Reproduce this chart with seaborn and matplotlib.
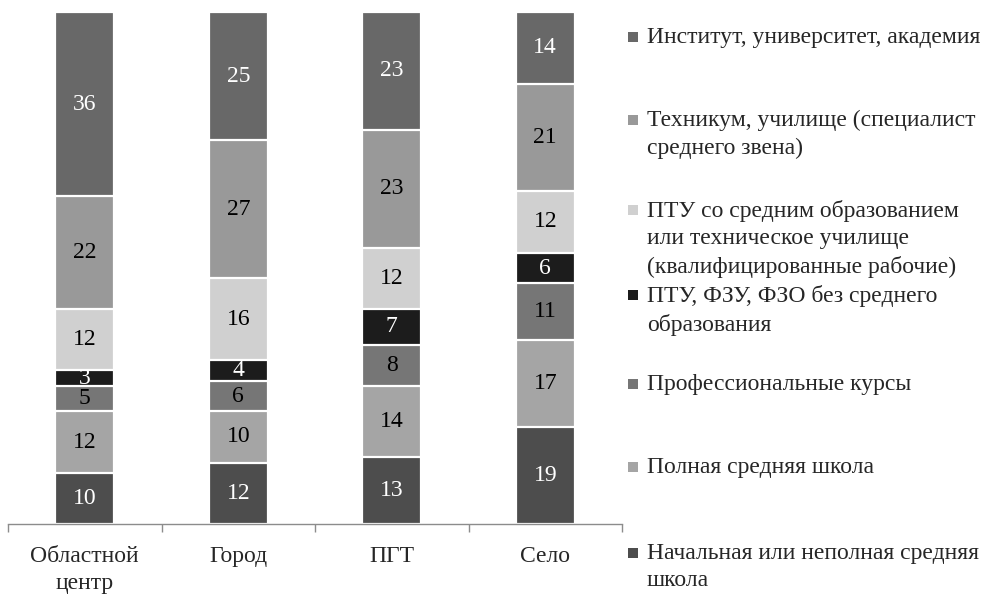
import pandas as pd
import numpy as np
import matplotlib
matplotlib.use("Agg")
import matplotlib.pyplot as plt
from matplotlib.patches import Rectangle
import seaborn as sns

# Data (top of stack first)
places = ["Областной\nцентр", "Город", "ПГТ", "Село"]
levels = [
    "Институт, университет, академия",
    "Техникум, училище (специалист\nсреднего звена)",
    "ПТУ со средним образованием\nили техническое училище\n(квалифицированные рабочие)",
    "ПТУ, ФЗУ, ФЗО без среднего\nобразования",
    "Профессиональные курсы",
    "Полная средняя школа",
    "Начальная или неполная средняя\nшкола",
]
institut = [36, 25, 23, 14]
tehnikum = [22, 27, 23, 21]
ptu_sred = [12, 16, 12, 12]
ptu_bez = [3, 4, 7, 6]
kursy = [5, 6, 8, 11]
polnaya = [12, 10, 14, 17]
nachalnaya = [10, 12, 13, 19]

colors = ["#686868", "#999999", "#d0d0d0", "#1c1c1c", "#767676", "#a5a5a5", "#4d4d4d"]
text_colors = ["white", "black", "black", "white", "black", "black", "white"]

sns.set_style("white")
plt.rcParams["font.family"] = ["Liberation Serif", "DejaVu Serif"]
FS = 17

df = pd.DataFrame({
    "place": places,
    levels[0]: institut, levels[1]: tehnikum, levels[2]: ptu_sred,
    levels[3]: ptu_bez, levels[4]: kursy, levels[5]: polnaya, levels[6]: nachalnaya,
})

# cumulative from the bottom
bottom_up = levels[::-1]
cum = df[bottom_up].cumsum(axis=1)

fig = plt.figure(figsize=(9.97, 5.96), dpi=100)
ax = fig.add_axes([8 / 997, 1 - 524 / 596, 614 / 997, 512 / 596])

# draw tallest first, each lower segment overlays the one above
for i, lvl in enumerate(levels):
    sns.barplot(x=df["place"], y=cum[lvl], order=places, color=colors[i],
                saturation=1, width=0.385, edgecolor="white", linewidth=1.6, ax=ax)
    for j in range(len(places)):
        v = df[lvl][j]
        ax.text(j, cum[lvl][j] - v / 2, str(v), ha="center", va="center",
                color=text_colors[i], fontsize=FS)

ax.set_xlim(-0.5, 3.5)
ax.set_ylim(0, 100)
ax.set_xlabel("")
ax.set_ylabel("")
ax.set_yticks([])
for s in ["top", "right", "left"]:
    ax.spines[s].set_visible(False)
ax.spines["bottom"].set_color("#8c8c8c")
ax.spines["bottom"].set_linewidth(1)
ax.set_xticks(np.arange(-0.5, 4, 1), minor=True)
ax.tick_params(axis="x", which="minor", bottom=True, length=6, width=1,
               color="#8c8c8c", direction="out")
ax.tick_params(axis="x", which="major", length=0, pad=16, labelsize=FS)
for t in ax.get_xticklabels():
    t.set_linespacing(1.35)

# legend
leg_y = [37, 120, 210, 295, 384, 467, 553]
for i, lvl in enumerate(levels):
    y = 1 - leg_y[i] / 596
    fig.add_artist(Rectangle((628 / 997, y - 5 / 596), 10 / 997, 10 / 596,
                             transform=fig.transFigure, color=colors[i], lw=0))
    fig.text(647 / 997, y + 10 / 596, lvl, ha="left", va="top", fontsize=FS,
             linespacing=1.4)

fig.savefig("out.png", dpi=100)
